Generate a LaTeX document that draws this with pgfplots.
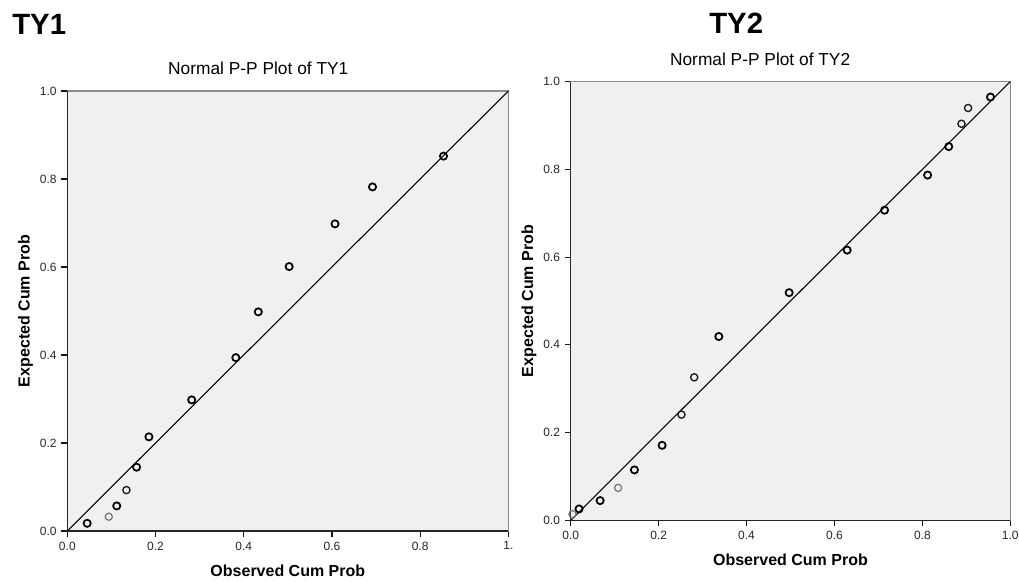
\documentclass[border=0pt]{standalone}
\usepackage{fontspec}
\setmainfont{Liberation Sans}
\usepackage{pgfplots}
\pgfplotsset{compat=1.18}
\definecolor{bggray}{HTML}{F0F0F0}
\definecolor{framegray}{HTML}{8C8C8C}
\pgfplotsset{
  ppstyle/.style={
    scale only axis, anchor=south west,
    xmin=0, xmax=1, ymin=0, ymax=1,
    xtick={0,0.2,0.4,0.6,0.8,1},
    ytick={0,0.2,0.4,0.6,0.8,1},
    yticklabels={0.0,0.2,0.4,0.6,0.8,1.0},
    tick pos=left, tick align=outside, major tick length=4.5pt,
    tick style={black!90, line width=0.9pt},
    ticklabel style={font=\fontsize{9}{10}\selectfont, text=black!85},
    axis background/.style={fill=bggray},
    axis line style={draw=framegray, line width=1pt},
    clip=false,
    xlabel={Observed Cum Prob}, ylabel={Expected Cum Prob},
    label style={font=\bfseries\fontsize{12}{14}\selectfont},
    xlabel style={at={(axis description cs:0.5,0)}, anchor=base, yshift=-34.2pt},
    ylabel style={at={(axis description cs:-0.095,0.5)}, anchor=center},
    title style={font=\fontsize{13}{15}\selectfont, anchor=base, yshift=6pt, at={(axis description cs:0.433,1)}},
  },
  heavy/.style={only marks, mark=o, mark size=2.7pt, mark options={line width=1.3pt, draw=black}},
  medium/.style={only marks, mark=o, mark size=2.7pt, mark options={line width=1pt, draw=black!90}},
  light/.style={only marks, mark=o, mark size=2.7pt, mark options={line width=0.9pt, draw=black!55}},
}
\begin{document}
\begin{tikzpicture}
\path[use as bounding box] (0,0) rectangle (764.25pt,435.75pt);
\node[anchor=base west, font=\bfseries\fontsize{22}{26}\selectfont, inner sep=0pt] at (9pt,409.5pt) {TY1};
\node[anchor=base west, font=\bfseries\fontsize{22}{26}\selectfont, inner sep=0pt] at (531.75pt,410.25pt) {TY2};

\begin{axis}[ppstyle, at={(50.5pt,37.5pt)}, width=330.75pt, height=330pt,
  xticklabels={0.0,0.2,0.4,0.6,0.8,1.},
  title={Normal P-P Plot of TY1}]
  \addplot[black, line width=0.8pt, mark=none] coordinates {(0,0) (1,1)};
  \addplot[heavy] coordinates {
    (0.045,0.0175) (0.112,0.057) (0.157,0.145) (0.185,0.214)
    (0.282,0.298) (0.382,0.394) (0.433,0.498) (0.503,0.601)
    (0.607,0.698) (0.692,0.782) (0.853,0.852)};
  \addplot[medium] coordinates {(0.134,0.093)};
  \addplot[light] coordinates {(0.094,0.0325)};
  \draw[black!85, line width=1.1pt] (rel axis cs:0,1) -- (rel axis cs:0,0) -- (rel axis cs:1,0);
\end{axis}

\begin{axis}[ppstyle, at={(428pt,45.5pt)}, width=329.7pt, height=329pt,
  xticklabels={0.0,0.2,0.4,0.6,0.8,1.0},
  title style={at={(axis description cs:0.431,1)}},
  title={Normal P-P Plot of TY2}]
  \addplot[black, line width=0.8pt, mark=none] coordinates {(0,0) (1,1)};
  \addplot[heavy] coordinates {
    (0.019,0.026) (0.067,0.045) (0.145,0.115) (0.208,0.171)
    (0.337,0.419) (0.497,0.519) (0.629,0.616) (0.714,0.707)
    (0.812,0.787) (0.860,0.852) (0.955,0.965)};
  \addplot[medium] coordinates {(0.252,0.241) (0.281,0.326) (0.889,0.904) (0.904,0.940)};
  \addplot[light] coordinates {(0.004,0.014) (0.108,0.074)};
  \draw[black!85, line width=1.1pt] (rel axis cs:0,1) -- (rel axis cs:0,0) -- (rel axis cs:1,0);
\end{axis}
\end{tikzpicture}
\end{document}
